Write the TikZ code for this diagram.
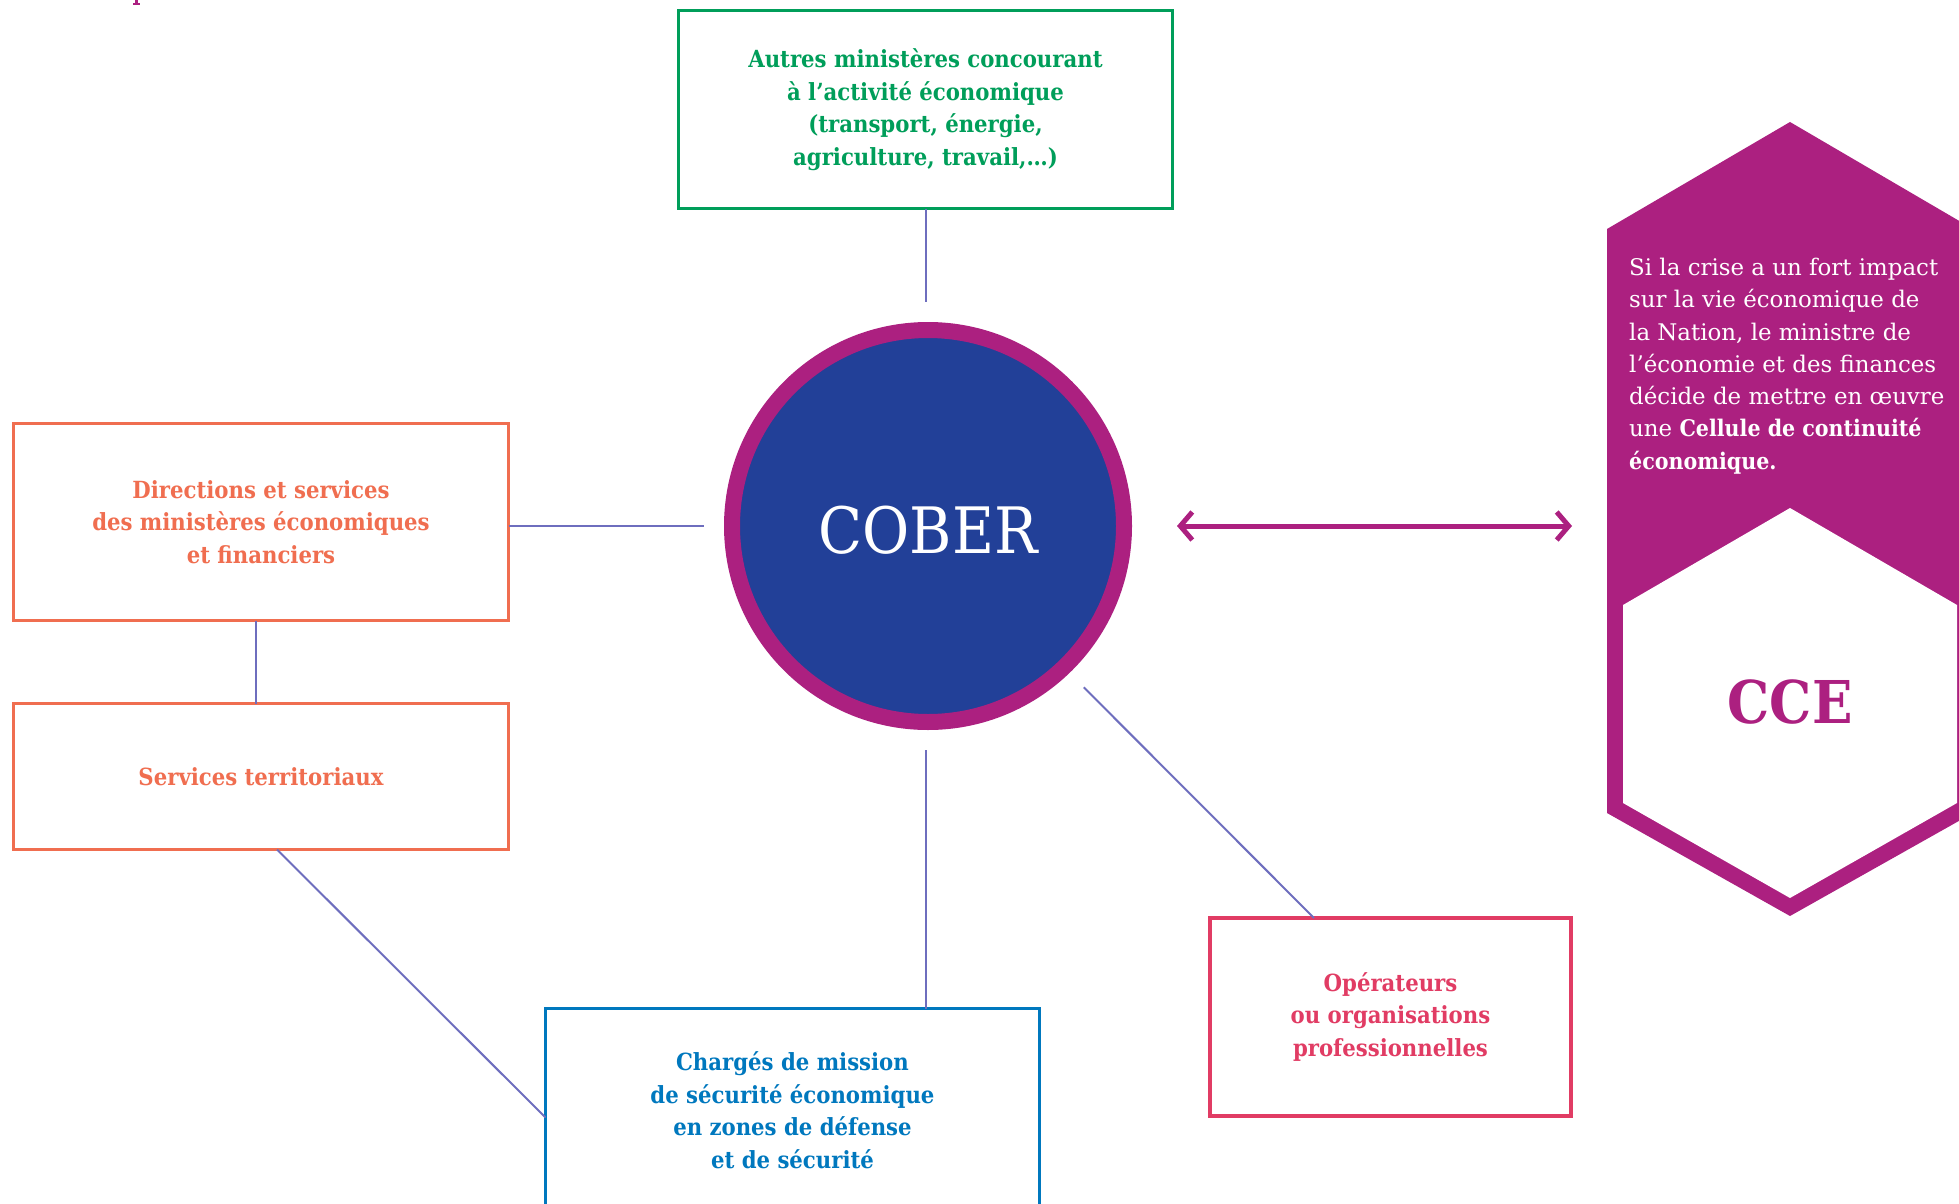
\documentclass[tikz,border=0pt]{standalone}
\usepackage{fontspec}
\usetikzlibrary{arrows.meta,calc}
\newfontfamily\dvs{DejaVu Serif Condensed}[BoldFont={DejaVu Serif Condensed Bold}]
\newfontfamily\dvw{DejaVu Serif}[BoldFont={DejaVu Serif Condensed Bold}]
\definecolor{cgreen}{RGB}{0,158,90}
\definecolor{corange}{RGB}{240,110,80}
\definecolor{cblue}{RGB}{0,120,190}
\definecolor{cpink}{RGB}{225,60,100}
\definecolor{clav}{RGB}{110,110,190}
\definecolor{cmag}{RGB}{172,32,128}
\definecolor{cnavy}{RGB}{34,64,152}
\newcommand{\boxfnt}{\dvs\bfseries\fontsize{23.6}{32.5}\selectfont}
\begin{document}
\begin{tikzpicture}[x=1pt,y=-1pt,
  box/.style={draw, line width=3pt, inner sep=0pt, outer sep=0pt, align=center, font=\boxfnt},
  conn/.style={draw=clav, line width=2pt}]
\useasboundingbox (0,0) rectangle (1959,1204);
\fill[white] (0,0) rectangle (1959,1204);
% cut-off fragment top left
\fill[cmag] (135,0) rectangle (138,3);
\fill[cmag] (133,3) rectangle (140,5);
% boxes
\node[box, draw=cgreen, text=cgreen, minimum width=494pt, minimum height=198pt] (autres) at (925.5,109.5)
  {Autres ministères concourant\\à l’activité économique\\(transport, énergie,\\agriculture, travail,…)};
\node[box, draw=corange, text=corange, minimum width=495pt, minimum height=197pt] (dir) at (261,522)
  {Directions et services\\des ministères économiques\\et financiers};
\node[box, draw=corange, text=corange, minimum width=495pt, minimum height=146pt] (terr) at (261,776.5)
  {Services territoriaux};
\node[box, draw=cblue, text=cblue, minimum width=494pt, minimum height=203pt] (charges) at (792.5,1110)
  {Chargés de mission\\de sécurité économique\\en zones de défense\\et de sécurité};
\node[box, draw=cpink, text=cpink, line width=4pt, minimum width=361pt, minimum height=198pt] (oper) at (1390.5,1017)
  {Opérateurs\\ou organisations\\professionnelles};
% central circle
\node[circle, minimum size=392pt, inner sep=0pt, fill=cnavy, draw=cmag, line width=16pt] (cober) at (928,526) {};
\node[text=white, inner sep=0pt, font=\dvs\fontsize{64}{64}\selectfont] (cobertxt) at (928,530) {COBER};
\node[circle, minimum size=448pt, inner sep=0pt] (gap) at (cober.center) {};
% connectors
\draw[conn] (autres.south) -- (autres.south |- gap.north);
\draw[conn] (dir.east |- gap.west) -- (gap.west);
\draw[conn] (gap.south -| autres.south) -- (charges.north -| autres.south);
\draw[conn] (gap.-46) -- ($(oper.north west)+(104,0)$);
\draw[conn] ($(dir.south)+(-5,0)$) -- ($(terr.north)+(-5,0)$);
\draw[conn] ($(terr.south)+(16,0)$) -- ($(charges.north west)+(0,109)$);
% hexagon
\fill[cmag] (1790,122) -- (1973,229) -- (1973,813) -- (1790,916) -- (1607,813) -- (1607,229) -- cycle;
\fill[white] (1790,508) -- (1957,605) -- (1957,803) -- (1790,898) -- (1623,803) -- (1623,605) -- cycle;
\node[text=white, anchor=west, align=left, inner sep=0pt, font=\dvw\fontsize{22.9}{32.3}\selectfont] (info) at (1629,366)
  {Si la crise a un fort impact\\sur la vie économique de\\la Nation, le ministre de\\l’économie et des finances\\décide de mettre en œuvre\\une \textbf{Cellule de continuité}\\\textbf{économique.}};
\node[text=cmag, inner sep=0pt, font=\dvs\bfseries\fontsize{59}{59}\selectfont] (cce) at (1790,702) {CCE};
% arrow
\coordinate (arrL) at (1177,526);
\coordinate (arrR) at (1572,526);
\draw[cmag, line width=5pt, {Straight Barb[length=12pt,width=28pt]}-{Straight Barb[length=12pt,width=28pt]}] (arrL) -- (arrR);
\end{tikzpicture}
\end{document}
